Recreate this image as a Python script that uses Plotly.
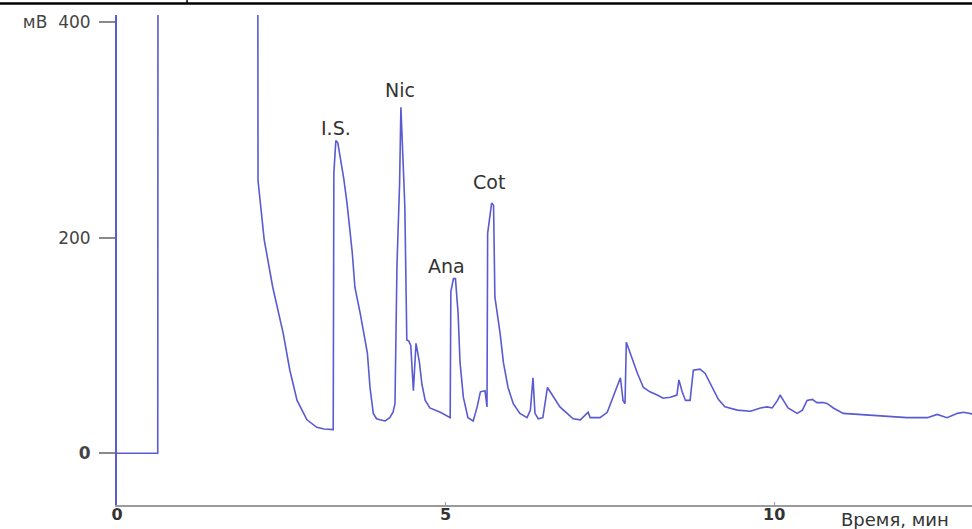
import plotly.graph_objects as go

# Chromatogram trace: time (min) and signal (mV)
time_min = [0, 0.62, 0.625, 2.14, 2.146, 2.19, 2.24, 2.37, 2.53, 2.63, 2.74, 2.89, 2.97, 3.04, 3.15, 3.27,
            3.29, 3.30, 3.33, 3.36, 3.39, 3.45, 3.50, 3.58, 3.62, 3.70, 3.81, 3.85, 3.90, 3.95, 4.00, 4.08, 4.15, 4.20, 4.23,
            4.26, 4.30, 4.32, 4.36, 4.38, 4.41, 4.44, 4.47, 4.51, 4.55, 4.60, 4.64, 4.69, 4.76,
            4.92, 5.07, 5.08, 5.12, 5.15, 5.19, 5.22, 5.27, 5.34, 5.42, 5.48, 5.53, 5.60, 5.63,
            5.64, 5.70, 5.73, 5.75, 5.83, 5.88, 5.95, 6.03, 6.13, 6.24, 6.29, 6.33, 6.36, 6.41,
            6.48, 6.55, 6.64, 6.74, 6.85, 6.94, 7.05, 7.12, 7.17, 7.20, 7.35, 7.46, 7.53, 7.61,
            7.66, 7.70, 7.73, 7.75, 7.78, 7.84, 7.92, 8.01, 8.11, 8.22, 8.31, 8.42, 8.52, 8.55,
            8.60, 8.65, 8.72, 8.77, 8.87, 8.95, 9.05, 9.15, 9.25, 9.44, 9.64, 9.79, 9.89, 9.97,
            10.05, 10.09, 10.14, 10.21, 10.35, 10.43, 10.50, 10.58, 10.65, 10.75, 10.81, 10.90,
            11.05, 11.31, 11.66, 12.02, 12.33, 12.48, 12.63, 12.79, 12.88, 12.98, 13.05]
signal_mv = [0, 0, 600, 600, 253, 224, 198, 154, 111, 77, 49, 31, 27, 24, 22.5, 22,
             22, 260, 290, 288, 278, 255, 232, 186, 154, 130, 93, 61, 37, 32, 31, 30, 33, 38, 46,
             174, 250, 321, 260, 228, 105, 104, 100, 58, 102, 85, 64, 49, 42,
             38, 33, 150, 162, 162, 130, 84, 52, 33, 30, 43, 57, 58, 43,
             204, 232, 230, 145, 111, 84, 61, 46, 37, 33, 40, 70, 37, 32,
             33, 61, 52, 43, 37, 32, 31, 35, 38, 33, 33, 38, 49, 61,
             70, 49, 46, 103, 98, 86, 74, 61, 57, 54, 51, 52, 54, 68,
             57, 49, 49, 77, 78, 74, 62, 50, 43, 40, 39, 42, 43, 42,
             49, 54, 49, 42, 37, 40, 49, 50, 47, 47, 46, 42,
             37, 36, 34, 33, 33, 36, 33, 37, 38, 37, 36]

# Peak labels
peak_names = ["I.S.", "Nic", "Ana", "Cot"]
peak_label_t = [3.33, 4.31, 5.01, 5.66]
peak_label_v = [302, 337, 174, 252]

x_tickvals = [0, 5, 10]
x_ticktext = ["<b>0</b>", "<b>5</b>", "<b>10</b>"]
y_tickvals = [0, 200, 400]
y_ticktext = ["<b>0</b>", "200", "мВ\u00a0\u00a0400"]

fig = go.Figure()
fig.add_trace(go.Scatter(
    x=time_min, y=signal_mv, mode="lines",
    line=dict(color="#5a5ad2", width=1.6),
    showlegend=False, hoverinfo="skip"))

for name, t, v in zip(peak_names, peak_label_t, peak_label_v):
    fig.add_annotation(x=t, y=v, text=name, showarrow=False,
                       font=dict(family="DejaVu Sans", size=19, color="#333333"),
                       xanchor="center", yanchor="middle")

fig.add_annotation(xref="paper", yref="paper", x=0.91, y=-0.03, text="Время, мин",
                   showarrow=False, xanchor="center", yanchor="middle",
                   font=dict(family="DejaVu Sans", size=18, color="#333333"))

# top black border line
fig.add_shape(type="line", xref="paper", yref="paper", x0=-0.137, x1=1.0,
              y0=1.0235, y1=1.0235, line=dict(color="black", width=2.5))
fig.add_shape(type="line", xref="paper", yref="paper", x0=0.0819, x1=0.0819,
              y0=1.0235, y1=1.035, line=dict(color="black", width=1.5))

fig.update_layout(
    width=972, height=529,
    margin=dict(l=117, r=0, t=15, b=24, autoexpand=False),
    paper_bgcolor="white", plot_bgcolor="white",
    font=dict(family="DejaVu Sans", size=16, color="#333333"),
)
fig.update_xaxes(range=[0, 13.01], tickvals=x_tickvals, ticktext=x_ticktext,
                 automargin=False,
                 showgrid=False, zeroline=False, showline=True,
                 linecolor="#9a9a9a", linewidth=1.5,
                 ticks="inside", ticklen=3, tickcolor="#9a9a9a",
                 ticklabelstandoff=-6,
                 tickfont=dict(family="DejaVu Sans", size=16, color="#333333"))
fig.update_yaxes(range=[-48, 406.5], tickvals=y_tickvals, ticktext=y_ticktext,
                 automargin=False,
                 showgrid=False, zeroline=False, showline=True,
                 linecolor="#5a5ad2", linewidth=2,
                 ticks="outside", ticklen=16, tickcolor="#8a8a8a", tickwidth=1.5,
                 ticklabelstandoff=5,
                 tickfont=dict(family="DejaVu Sans", size=17, color="#444444"))

fig.write_html("out.html")
